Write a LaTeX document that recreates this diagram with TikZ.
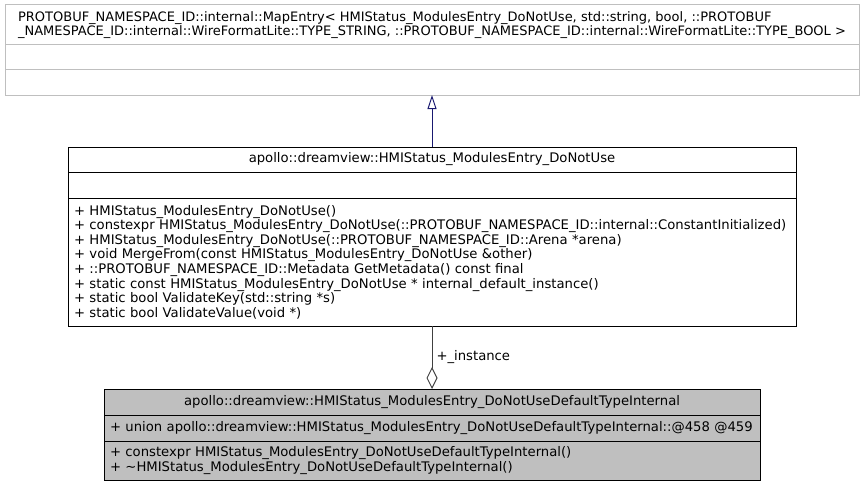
\documentclass[tikz,border=0pt]{standalone}
\usepackage{fontspec}
\setmainfont{DejaVu Sans}
\usetikzlibrary{arrows.meta}
\usetikzlibrary{positioning}
\definecolor{boxgray}{HTML}{BFBFBF}
\definecolor{navyline}{HTML}{191970}
\definecolor{linkgray}{HTML}{404040}

\begin{document}
\begin{tikzpicture}[x=1pt, y=-1pt, line width=1pt,
		part/.style={draw, rectangle, anchor=north west, inner xsep=6pt, inner ysep=0pt, outer sep=0pt,
			font=\fontsize{13.2}{14.6}\selectfont},
		wide/.style={minimum width=728pt, text width=716pt},
		narrow/.style={minimum width=656pt, text width=644pt, fill=boxgray}]
			\useasboundingbox (0,0) rectangle (865,487);
			% base class
			\node[part, draw=boxgray, minimum width=854pt, minimum height=40pt, align=left,
				font=\fontsize{13}{14.4}\selectfont] (mapName) at (5,5)
				{PROTOBUF\_NAMESPACE\_ID::internal::MapEntry< HMIStatus\_ModulesEntry\_DoNotUse, std::string, bool, ::PROTOBUF\\
				\_NAMESPACE\_ID::internal::WireFormatLite::TYPE\_STRING, ::PROTOBUF\_NAMESPACE\_ID::internal::WireFormatLite::TYPE\_BOOL >};
			\node[part, draw=boxgray, minimum width=854pt, minimum height=25pt, below=0pt of mapName] (mapAttr) {};
			\node[part, draw=boxgray, minimum width=854pt, minimum height=25pt, below=0pt of mapAttr] (mapOps) {};
			% derived class
			\node[part, wide, minimum height=25pt, align=center] (entryName) at (68,147)
				{apollo::dreamview::HMIStatus\_ModulesEntry\_DoNotUse};
			\node[part, wide, minimum height=26pt, below=0pt of entryName] (entryAttr) {};
			\node[part, wide, minimum height=128pt, align=left, below=0pt of entryAttr] (entryOps)
				{+ HMIStatus\_ModulesEntry\_DoNotUse()\\
				+ constexpr HMIStatus\_ModulesEntry\_DoNotUse(::PROTOBUF\_NAMESPACE\_ID::internal::ConstantInitialized)\\
				+ HMIStatus\_ModulesEntry\_DoNotUse(::PROTOBUF\_NAMESPACE\_ID::Arena *arena)\\
				+ void MergeFrom(const HMIStatus\_ModulesEntry\_DoNotUse \&other)\\
				+ ::PROTOBUF\_NAMESPACE\_ID::Metadata GetMetadata() const final\\
				+ static const HMIStatus\_ModulesEntry\_DoNotUse * internal\_default\_instance()\\
				+ static bool ValidateKey(std::string *s)\\
				+ static bool ValidateValue(void *)};
			% default instance holder
			\node[part, narrow, minimum height=26pt, align=center] (internalName) at (104,389)
				{apollo::dreamview::HMIStatus\_ModulesEntry\_DoNotUseDefaultTypeInternal};
			\node[part, narrow, minimum height=26pt, align=left, below=0pt of internalName] (internalAttr)
				{+ union apollo::dreamview::HMIStatus\_ModulesEntry\_DoNotUseDefaultTypeInternal::@458 @459};
			\node[part, narrow, minimum height=39pt, align=left, below=0pt of internalAttr] (internalOps)
				{+ constexpr HMIStatus\_ModulesEntry\_DoNotUseDefaultTypeInternal()\\
				+ \textasciitilde HMIStatus\_ModulesEntry\_DoNotUseDefaultTypeInternal()};
			% links
			\draw[navyline, -{Triangle[open, length=14pt, width=9pt]}] (entryName.north) -- (mapOps.south);
			\draw[linkgray, {Diamond[open, length=22pt, width=11pt]}-] (internalName.north) -- (entryOps.south)
				node[pos=0.5, anchor=west, black, inner xsep=4pt, font=\fontsize{13.2}{14.6}\selectfont] (instLabel) {+\_instance};
		\end{tikzpicture}
\end{document}
